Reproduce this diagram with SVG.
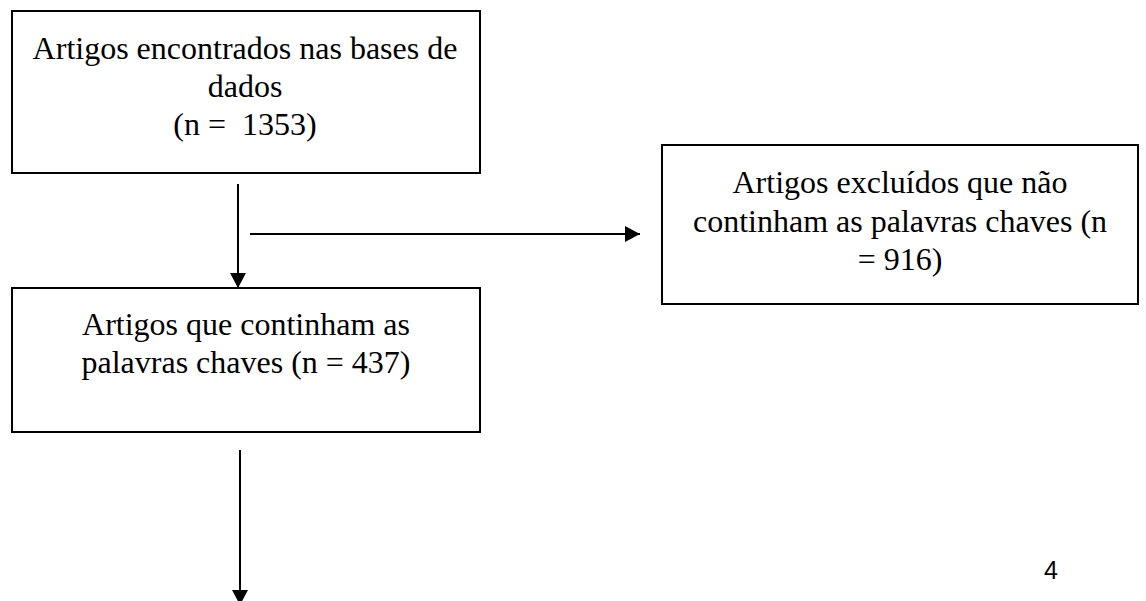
<svg xmlns="http://www.w3.org/2000/svg" width="1146" height="601" viewBox="0 0 1146 601">
<style>
.box{fill:#fff;stroke:#000;stroke-width:2}
.t{font-family:"Liberation Serif","Times New Roman",serif;font-size:32px;fill:#000;text-anchor:middle;white-space:pre}
.c{stroke:#000;stroke-width:2;fill:none}
.pn{font-family:"Liberation Sans",Arial,sans-serif;font-size:25px;fill:#000}
</style>
<defs>
<marker id="ah" markerWidth="16" markerHeight="16" viewBox="0 0 16 16" refX="15" refY="8" orient="auto" markerUnits="userSpaceOnUse">
<path d="M0,0 L15,8 L0,16 Z" fill="#000"/>
</marker>
</defs>
<rect width="1146" height="601" fill="#fff"/>
<g id="n1">
<rect class="box" x="12" y="11" width="468" height="162"/>
<text class="t" x="245" y="59">Artigos encontrados nas bases de</text>
<text class="t" x="245" y="97">dados</text>
<text class="t" x="245" y="135" xml:space="preserve">(n =  1353)</text>
</g>
<g id="n2">
<rect class="box" x="662" y="145" width="476" height="159"/>
<text class="t" x="900" y="193">Artigos excluídos que não</text>
<text class="t" x="900" y="232">continham as palavras chaves (n</text>
<text class="t" x="900" y="270">= 916)</text>
</g>
<g id="n3">
<rect class="box" x="12" y="288" width="468" height="144"/>
<text class="t" x="246" y="335">Artigos que continham as</text>
<text class="t" x="246" y="373">palavras chaves (n = 437)</text>
</g>
<g id="connectors">
<line class="c" x1="238" y1="184" x2="238" y2="288" marker-end="url(#ah)"/>
<line class="c" x1="250" y1="234" x2="640" y2="234" marker-end="url(#ah)"/>
<line class="c" x1="240" y1="450" x2="240" y2="605" marker-end="url(#ah)"/>
</g>
<text class="pn" x="1044" y="579">4</text>
</svg>
